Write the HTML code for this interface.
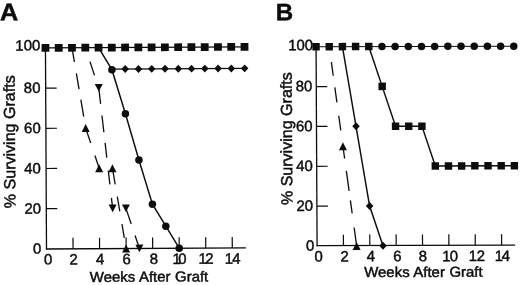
<!DOCTYPE html>
<html><head><meta charset="utf-8"><title>Graft survival</title>
<style>
html,body{margin:0;padding:0;background:#fff;}
body{width:520px;height:285px;overflow:hidden;}
svg{display:block;will-change:transform;filter:grayscale(1);font-family:"Liberation Sans",sans-serif;}
</style></head><body>
<svg width="520" height="285" viewBox="0 0 520 285" fill="#0c0c0c" stroke="#0c0c0c">
<rect x="0" y="0" width="520" height="285" fill="#fff" stroke="none"/>
<g transform="matrix(1 -0.0052 0.0052 1 -1.29 0.24)">
<line x1="46.5" y1="47.4" x2="46.5" y2="249.6" stroke-width="1.3"/>
<line x1="45.9" y1="249" x2="245.85" y2="249" stroke-width="1.3"/>
<line x1="73.04" y1="249" x2="73.04" y2="238" stroke-width="1.2"/>
<line x1="99.58" y1="249" x2="99.58" y2="238" stroke-width="1.2"/>
<line x1="126.12" y1="249" x2="126.12" y2="238" stroke-width="1.2"/>
<line x1="152.66" y1="249" x2="152.66" y2="238" stroke-width="1.2"/>
<line x1="179.2" y1="249" x2="179.2" y2="238" stroke-width="1.2"/>
<line x1="205.74" y1="249" x2="205.74" y2="238" stroke-width="1.2"/>
<line x1="232.28" y1="249" x2="232.28" y2="238" stroke-width="1.2"/>
<line x1="46.5" y1="208.7" x2="57.5" y2="208.7" stroke-width="1.2"/>
<line x1="46.5" y1="168.5" x2="57.5" y2="168.5" stroke-width="1.2"/>
<line x1="46.5" y1="128.3" x2="57.5" y2="128.3" stroke-width="1.2"/>
<line x1="46.5" y1="88.1" x2="57.5" y2="88.1" stroke-width="1.2"/>
<text transform="translate(48 264.6) rotate(0) scale(0.99 1)" text-anchor="middle" font-size="15.1" stroke-width="0.45">0</text>
<text transform="translate(73.54 264.6) rotate(0) scale(0.99 1)" text-anchor="middle" font-size="15.1" stroke-width="0.45">2</text>
<text transform="translate(100.08 264.6) rotate(0) scale(0.99 1)" text-anchor="middle" font-size="15.1" stroke-width="0.45">4</text>
<text transform="translate(126.62 264.6) rotate(0) scale(0.99 1)" text-anchor="middle" font-size="15.1" stroke-width="0.45">6</text>
<text transform="translate(153.76 264.6) rotate(0) scale(0.99 1)" text-anchor="middle" font-size="15.1" stroke-width="0.45">8</text>
<text transform="translate(178.16 264.6) rotate(0) scale(0.99 1)" text-anchor="middle" font-size="15.1" letter-spacing="-2.5" stroke-width="0.45">10</text>
<text transform="translate(205.2 264.6) rotate(0) scale(0.99 1)" text-anchor="middle" font-size="15.1" letter-spacing="-1.5" stroke-width="0.45">12</text>
<text transform="translate(232.28 264.6) rotate(0) scale(0.99 1)" text-anchor="middle" font-size="15.1" letter-spacing="-0.8" stroke-width="0.45">14</text>
<text transform="translate(41.3 253.8) rotate(0) scale(0.99 1)" text-anchor="end" font-size="15.1" stroke-width="0.45">0</text>
<text transform="translate(41.3 213.6) rotate(0) scale(0.99 1)" text-anchor="end" font-size="15.1" stroke-width="0.45">20</text>
<text transform="translate(41.3 173.4) rotate(0) scale(0.99 1)" text-anchor="end" font-size="15.1" stroke-width="0.45">40</text>
<text transform="translate(41.3 133.2) rotate(0) scale(0.99 1)" text-anchor="end" font-size="15.1" stroke-width="0.45">60</text>
<text transform="translate(41.3 93) rotate(0) scale(0.99 1)" text-anchor="end" font-size="15.1" stroke-width="0.45">80</text>
<text transform="translate(41.3 50.5) rotate(0) scale(0.99 1)" text-anchor="end" font-size="15.1" stroke-width="0.45">100</text>
<text transform="translate(89.6 282.2) rotate(0) scale(1.04 1)" text-anchor="start" font-size="14.4" word-spacing="0.3" stroke-width="0.45">Weeks After Graft</text>
<text transform="translate(15.6 141.6) rotate(-90)" text-anchor="middle" font-size="16.05" stroke-width="0.45">% Surviving Grafts</text>
<text transform="translate(1.2 20) rotate(0) scale(1.06 1)" text-anchor="start" font-size="23.8" font-weight="bold" stroke-width="0.45">A</text>
<line x1="46.5" y1="47.9" x2="245.55" y2="47.9" stroke-width="1.1"/>
<polyline fill="none" stroke-width="1.45" points="99.58,47.9 112.85,70.01 126.12,114.23 139.39,160.46 152.66,204.68 165.93,226.79 179.2,248.9"/>
<line x1="112.85" y1="69.41" x2="245.55" y2="69.41" stroke-width="1.2"/>
<line x1="73.22" y1="49" x2="75.37" y2="62" stroke-width="1.3"/>
<line x1="77.27" y1="73.5" x2="79.87" y2="89.3" stroke-width="1.3"/>
<line x1="81.61" y1="99.8" x2="84.41" y2="116.8" stroke-width="1.3"/>
<line x1="86.34" y1="128.4" x2="91.23" y2="143.2" stroke-width="1.3"/>
<line x1="95.39" y1="155.8" x2="99.41" y2="168" stroke-width="1.3"/>
<line x1="112.93" y1="169" x2="115.52" y2="184.7" stroke-width="1.3"/>
<line x1="117.57" y1="197.1" x2="120" y2="211.8" stroke-width="1.3"/>
<line x1="122.09" y1="224.5" x2="124.35" y2="238.2" stroke-width="1.3"/>
<line x1="90.93" y1="61.9" x2="95.45" y2="75.6" stroke-width="1.3"/>
<line x1="99.51" y1="87.5" x2="101.35" y2="104.2" stroke-width="1.3"/>
<line x1="102.63" y1="115.8" x2="104.48" y2="132.6" stroke-width="1.3"/>
<line x1="105.64" y1="143.2" x2="107.26" y2="157.9" stroke-width="1.3"/>
<line x1="108.7" y1="171" x2="110.21" y2="184.7" stroke-width="1.3"/>
<line x1="111.69" y1="198.2" x2="112.66" y2="207" stroke-width="1.3"/>
<line x1="126.22" y1="209" x2="131.34" y2="224.5" stroke-width="1.3"/>
<line x1="135.13" y1="236" x2="138.43" y2="246" stroke-width="1.3"/>
<rect x="42.6" y="44.05" width="7.8" height="7.7" stroke="none"/>
<rect x="55.87" y="44.05" width="7.8" height="7.7" stroke="none"/>
<rect x="69.14" y="44.05" width="7.8" height="7.7" stroke="none"/>
<rect x="82.41" y="44.05" width="7.8" height="7.7" stroke="none"/>
<rect x="95.68" y="44.05" width="7.8" height="7.7" stroke="none"/>
<rect x="108.95" y="44.05" width="7.8" height="7.7" stroke="none"/>
<rect x="122.22" y="44.05" width="7.8" height="7.7" stroke="none"/>
<rect x="135.49" y="44.05" width="7.8" height="7.7" stroke="none"/>
<rect x="148.76" y="44.05" width="7.8" height="7.7" stroke="none"/>
<rect x="162.03" y="44.05" width="7.8" height="7.7" stroke="none"/>
<rect x="175.3" y="44.05" width="7.8" height="7.7" stroke="none"/>
<rect x="188.57" y="44.05" width="7.8" height="7.7" stroke="none"/>
<rect x="201.84" y="44.05" width="7.8" height="7.7" stroke="none"/>
<rect x="215.11" y="44.05" width="7.8" height="7.7" stroke="none"/>
<rect x="228.38" y="44.05" width="7.8" height="7.7" stroke="none"/>
<rect x="241.65" y="44.05" width="7.8" height="7.7" stroke="none"/>
<circle cx="112.85" cy="70.01" r="3.75" stroke="none"/>
<circle cx="126.12" cy="114.23" r="3.75" stroke="none"/>
<circle cx="139.39" cy="160.46" r="3.75" stroke="none"/>
<circle cx="152.66" cy="204.68" r="3.75" stroke="none"/>
<circle cx="165.93" cy="226.79" r="3.75" stroke="none"/>
<circle cx="179.2" cy="248.9" r="3.75" stroke="none"/>
<polygon stroke="none" points="126.12,65.46 129.87,69.41 126.12,73.36 122.37,69.41"/>
<polygon stroke="none" points="139.39,65.46 143.14,69.41 139.39,73.36 135.64,69.41"/>
<polygon stroke="none" points="152.66,65.46 156.41,69.41 152.66,73.36 148.91,69.41"/>
<polygon stroke="none" points="165.93,65.46 169.68,69.41 165.93,73.36 162.18,69.41"/>
<polygon stroke="none" points="179.2,65.46 182.95,69.41 179.2,73.36 175.45,69.41"/>
<polygon stroke="none" points="192.47,65.46 196.22,69.41 192.47,73.36 188.72,69.41"/>
<polygon stroke="none" points="205.74,65.46 209.49,69.41 205.74,73.36 201.99,69.41"/>
<polygon stroke="none" points="219.01,65.46 222.76,69.41 219.01,73.36 215.26,69.41"/>
<polygon stroke="none" points="232.28,65.46 236.03,69.41 232.28,73.36 228.53,69.41"/>
<polygon stroke="none" points="245.55,65.46 249.3,69.41 245.55,73.36 241.8,69.41"/>
<polygon stroke="none" points="86.31,124.3 90.31,132.3 82.31,132.3"/>
<polygon stroke="none" points="99.58,164.5 103.58,172.5 95.58,172.5"/>
<polygon stroke="none" points="112.85,164.5 116.85,172.5 108.85,172.5"/>
<polygon stroke="none" points="126.12,244.9 130.12,252.9 122.12,252.9"/>
<polygon stroke="none" points="99.58,91.9 103.58,84.3 95.58,84.3"/>
<polygon stroke="none" points="112.85,212.5 116.85,204.9 108.85,204.9"/>
<polygon stroke="none" points="126.12,212.5 130.12,204.9 122.12,204.9"/>
<polygon stroke="none" points="139.39,252.7 143.39,245.1 135.39,245.1"/>
</g>
<g transform="matrix(1 -0.0026 0.0052 1 -1.28 0.82)">
<line x1="317.1" y1="46.2" x2="317.1" y2="246.3" stroke-width="1.3"/>
<line x1="316.5" y1="245.7" x2="515.1" y2="245.7" stroke-width="1.3"/>
<line x1="343.46" y1="245.7" x2="343.46" y2="234.7" stroke-width="1.2"/>
<line x1="369.82" y1="245.7" x2="369.82" y2="234.7" stroke-width="1.2"/>
<line x1="396.18" y1="245.7" x2="396.18" y2="234.7" stroke-width="1.2"/>
<line x1="422.54" y1="245.7" x2="422.54" y2="234.7" stroke-width="1.2"/>
<line x1="448.9" y1="245.7" x2="448.9" y2="234.7" stroke-width="1.2"/>
<line x1="475.26" y1="245.7" x2="475.26" y2="234.7" stroke-width="1.2"/>
<line x1="501.62" y1="245.7" x2="501.62" y2="234.7" stroke-width="1.2"/>
<line x1="317.1" y1="206.14" x2="328.1" y2="206.14" stroke-width="1.2"/>
<line x1="317.1" y1="166.28" x2="328.1" y2="166.28" stroke-width="1.2"/>
<line x1="317.1" y1="126.42" x2="328.1" y2="126.42" stroke-width="1.2"/>
<line x1="317.1" y1="86.56" x2="328.1" y2="86.56" stroke-width="1.2"/>
<text transform="translate(318.6 261.5) rotate(0) scale(0.99 1)" text-anchor="middle" font-size="15.1" stroke-width="0.45">0</text>
<text transform="translate(344.56 261.5) rotate(0) scale(0.99 1)" text-anchor="middle" font-size="15.1" stroke-width="0.45">2</text>
<text transform="translate(370.92 261.5) rotate(0) scale(0.99 1)" text-anchor="middle" font-size="15.1" stroke-width="0.45">4</text>
<text transform="translate(397.28 261.5) rotate(0) scale(0.99 1)" text-anchor="middle" font-size="15.1" stroke-width="0.45">6</text>
<text transform="translate(422.84 261.5) rotate(0) scale(0.99 1)" text-anchor="middle" font-size="15.1" stroke-width="0.45">8</text>
<text transform="translate(449.8 261.5) rotate(0) scale(0.99 1)" text-anchor="middle" font-size="15.1" letter-spacing="-0.8" stroke-width="0.45">10</text>
<text transform="translate(476.61 261.5) rotate(0) scale(0.99 1)" text-anchor="middle" font-size="15.1" letter-spacing="-0.5" stroke-width="0.45">12</text>
<text transform="translate(501.68 261.5) rotate(0) scale(0.99 1)" text-anchor="middle" font-size="15.1" letter-spacing="-1.3" stroke-width="0.45">14</text>
<text transform="translate(314.3 250.7) rotate(0) scale(0.99 1)" text-anchor="end" font-size="15.1" stroke-width="0.45">0</text>
<text transform="translate(313.2 210.84) rotate(0) scale(0.99 1)" text-anchor="end" font-size="15.1" stroke-width="0.45">20</text>
<text transform="translate(313.2 170.98) rotate(0) scale(0.99 1)" text-anchor="end" font-size="15.1" stroke-width="0.45">40</text>
<text transform="translate(313.2 131.12) rotate(0) scale(0.99 1)" text-anchor="end" font-size="15.1" stroke-width="0.45">60</text>
<text transform="translate(313.2 91.26) rotate(0) scale(0.99 1)" text-anchor="end" font-size="15.1" stroke-width="0.45">80</text>
<text transform="translate(314.1 50.3) rotate(0) scale(0.99 1)" text-anchor="end" font-size="15.1" stroke-width="0.45">100</text>
<text transform="translate(364 277.2) rotate(0) scale(1.04 1)" text-anchor="start" font-size="14.4" word-spacing="0.3" stroke-width="0.45">Weeks After Graft</text>
<text transform="translate(292.6 138.6) rotate(-90)" text-anchor="middle" font-size="16.05" stroke-width="0.45">% Surviving Grafts</text>
<text transform="translate(276.8 20.2) rotate(0) scale(1.015 1)" text-anchor="start" font-size="23.8" font-weight="bold" stroke-width="0.45">B</text>
<line x1="317.1" y1="46.7" x2="514.8" y2="46.7" stroke-width="1.1"/>
<polyline fill="none" stroke-width="1.45" points="369.82,46.7 383,86.56 396.18,126.42 409.36,126.42 422.54,126.42 435.72,166.28 514.8,166.28"/>
<polyline fill="none" stroke-width="1.45" points="343.46,46.7 356.64,126.42 369.82,206.14 383,246"/>
<line x1="332.32" y1="62.1" x2="334.13" y2="75.8" stroke-width="1.3"/>
<line x1="335.66" y1="87.4" x2="337.66" y2="102.5" stroke-width="1.3"/>
<line x1="339.42" y1="115.8" x2="341.36" y2="130.5" stroke-width="1.3"/>
<line x1="343.48" y1="146.5" x2="345.08" y2="158.6" stroke-width="1.3"/>
<line x1="346.72" y1="171" x2="349.37" y2="191" stroke-width="1.3"/>
<line x1="350.61" y1="200.4" x2="352.34" y2="213.5" stroke-width="1.3"/>
<line x1="354.21" y1="227.6" x2="356.44" y2="244.5" stroke-width="1.3"/>
<rect x="313.4" y="42.95" width="7.4" height="7.5" stroke="none"/>
<rect x="326.58" y="42.95" width="7.4" height="7.5" stroke="none"/>
<rect x="339.76" y="42.95" width="7.4" height="7.5" stroke="none"/>
<rect x="352.94" y="42.95" width="7.4" height="7.5" stroke="none"/>
<rect x="366.12" y="42.95" width="7.4" height="7.5" stroke="none"/>
<circle cx="383" cy="46.7" r="3.75" stroke="none"/>
<circle cx="396.18" cy="46.7" r="3.75" stroke="none"/>
<circle cx="409.36" cy="46.7" r="3.75" stroke="none"/>
<circle cx="422.54" cy="46.7" r="3.75" stroke="none"/>
<circle cx="435.72" cy="46.7" r="3.75" stroke="none"/>
<circle cx="448.9" cy="46.7" r="3.75" stroke="none"/>
<circle cx="462.08" cy="46.7" r="3.75" stroke="none"/>
<circle cx="475.26" cy="46.7" r="3.75" stroke="none"/>
<circle cx="488.44" cy="46.7" r="3.75" stroke="none"/>
<circle cx="501.62" cy="46.7" r="3.75" stroke="none"/>
<circle cx="514.8" cy="46.7" r="3.75" stroke="none"/>
<rect x="379.3" y="82.81" width="7.4" height="7.5" stroke="none"/>
<rect x="392.48" y="122.67" width="7.4" height="7.5" stroke="none"/>
<rect x="405.66" y="122.67" width="7.4" height="7.5" stroke="none"/>
<rect x="418.84" y="122.67" width="7.4" height="7.5" stroke="none"/>
<rect x="432.02" y="162.53" width="7.4" height="7.5" stroke="none"/>
<rect x="445.2" y="162.53" width="7.4" height="7.5" stroke="none"/>
<rect x="458.38" y="162.53" width="7.4" height="7.5" stroke="none"/>
<rect x="471.56" y="162.53" width="7.4" height="7.5" stroke="none"/>
<rect x="484.74" y="162.53" width="7.4" height="7.5" stroke="none"/>
<rect x="497.92" y="162.53" width="7.4" height="7.5" stroke="none"/>
<rect x="511.1" y="162.53" width="7.4" height="7.5" stroke="none"/>
<polygon stroke="none" points="356.64,122.47 360.39,126.42 356.64,130.37 352.89,126.42"/>
<polygon stroke="none" points="369.82,202.19 373.57,206.14 369.82,210.09 366.07,206.14"/>
<polygon stroke="none" points="383,242.05 386.75,246 383,249.95 379.25,246"/>
<polygon stroke="none" points="343.46,142.35 347.46,150.35 339.46,150.35"/>
<polygon stroke="none" points="356.64,242 360.64,250 352.64,250"/>
</g>
</svg>
</body></html>
